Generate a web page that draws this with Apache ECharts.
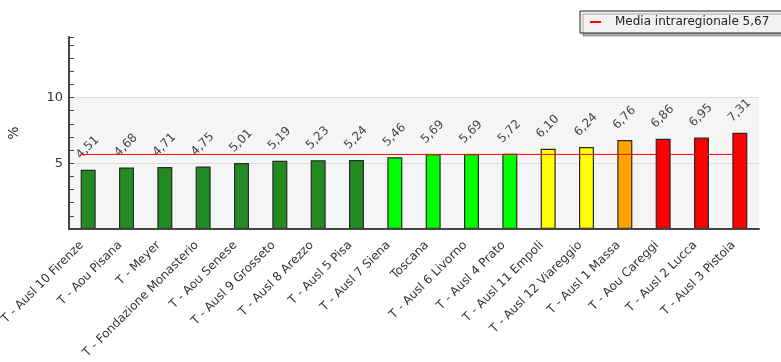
<!DOCTYPE html>
<html><head><meta charset="utf-8">
<script src="https://cdn.jsdelivr.net/npm/echarts@6/dist/echarts.min.js"></script>
<style>html,body{margin:0;padding:0;background:#fff}#c{width:781px;height:362px}</style>
</head><body><div id="c"></div>
<script>
const categories = ["T - Ausl 10 Firenze","T - Aou Pisana","T - Meyer","T - Fondazione Monasterio","T - Aou Senese","T - Ausl 9 Grosseto","T - Ausl 8 Arezzo","T - Ausl 5 Pisa","T - Ausl 7 Siena","Toscana","T - Ausl 6 Livorno","T - Ausl 4 Prato","T - Ausl 11 Empoli","T - Ausl 12 Viareggio","T - Ausl 1 Massa","T - Aou Careggi","T - Ausl 2 Lucca","T - Ausl 3 Pistoia"];
const values = [4.51,4.68,4.71,4.75,5.01,5.19,5.23,5.24,5.46,5.69,5.69,5.72,6.10,6.24,6.76,6.86,6.95,7.31];
const barColors = ["#228B22","#228B22","#228B22","#228B22","#228B22","#228B22","#228B22","#228B22","#00FF00","#00FF00","#00FF00","#00FF00","#FFFF00","#FFFF00","#FFA500","#FF0000","#FF0000","#FF0000"];
const mediaValue = 5.67;
const mediaName = "Media intraregionale 5,67";
const yTickLabels = [5, 10];

const FONT = "DejaVu Sans";
const fmt = v => v.toFixed(2).replace('.', ',');
const chart = echarts.init(document.getElementById('c'));
const n = categories.length;
chart.setOption({
  animation: false,
  textStyle: {fontFamily: FONT},
  legend: {
    data: [{name: mediaName, icon: 'rect'}],
    left: 580, top: 11,
    itemWidth: 11, itemHeight: 2,
    padding: [5, 20, 5, 10],
    backgroundColor: '#f2f2f2',
    borderColor: '#222', borderWidth: 1,
    shadowColor: 'rgba(0,0,0,0.3)', shadowOffsetX: 3, shadowOffsetY: 3, shadowBlur: 0,
    textStyle: {fontFamily: FONT, fontSize: 12, color: '#222', padding: [0, 0, 0, 9]}
  },
  grid: {left: 69, right: 22, top: 37, bottom: 133, containLabel: false, outerBoundsMode: 'none'},
  xAxis: [{
    type: 'category', data: categories,
    axisLine: {onZero: false, lineStyle: {color: '#444', width: 2}},
    axisTick: {inside: true, alignWithLabel: false, length: 5, lineStyle: {color: '#444'}},
    axisLabel: {rotate: 45, interval: 0, fontSize: 12, color: '#333', fontFamily: FONT, margin: 8,
      padding: [0, 9, 0, 0]},
    z: 10
  }, {
    type: 'value', min: -0.5, max: n - 0.5, show: false
  }],
  yAxis: {
    type: 'value', min: 0, max: 14.6, interval: 1,
    name: '%', nameLocation: 'middle', nameGap: 48, nameRotate: 90,
    nameTextStyle: {fontSize: 14, color: '#333', fontFamily: FONT},
    axisLine: {show: true, onZero: false, lineStyle: {color: '#444', width: 2}},
    axisTick: {show: true, inside: true, length: 5, lineStyle: {color: '#444'}},
    axisLabel: {fontSize: 13, color: '#333', fontFamily: FONT, margin: 6,
      formatter: v => yTickLabels.includes(v) ? String(v) : ''},
    splitLine: {show: false},
    z: 10
  },
  series: [{
    type: 'line', data: [], z: 1, silent: true,
    markArea: {silent: true, z: 1, itemStyle: {color: '#f5f5f5'}, data: [[{yAxis: 0}, {yAxis: 10}]]},
    markLine: {silent: true, z: 1, symbol: 'none', label: {show: false},
      lineStyle: {color: '#dcdcdc', type: 'solid', width: 1},
      data: yTickLabels.map(v => ({yAxis: v}))}
  }, {
    type: 'bar', data: values.map((v, i) => ({value: v, itemStyle: {color: barColors[i]}})),
    barWidth: 15,
    itemStyle: {borderColor: '#2a2a2a', borderWidth: 1.2},
    label: {show: true, position: 'top', rotate: 45, align: 'left', verticalAlign: 'middle',
      distance: 0, offset: [2, -16], fontSize: 12, color: '#444', fontFamily: FONT,
      formatter: p => fmt(p.value)},
    z: 3
  }, {
    name: mediaName, type: 'line', xAxisIndex: 1,
    data: [[-0.2, mediaValue], [n - 1 + 0.2, mediaValue]],
    symbol: 'none', lineStyle: {color: '#ff0000', width: 1}, itemStyle: {color: '#ff0000'}, z: 5
  }]
});
</script></body></html>
